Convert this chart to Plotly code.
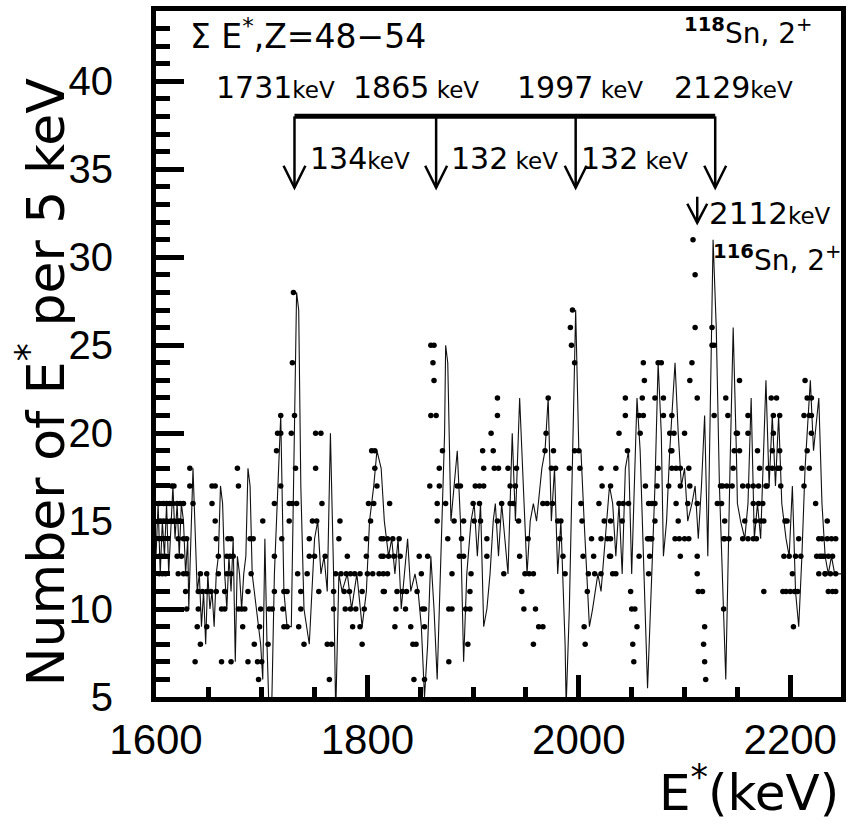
import plotly.graph_objects as go

# ---------------- data ----------------
# smoothed spectrum (thin line): (E* keV, counts per 5 keV)
line_pts = [
    (1600,13),(1602,16),(1604,12),(1606,15),(1608,13),(1610,16),(1612,12),(1614,15),(1616,17),(1618,14),
    (1620,16),(1622,13),(1624,16),(1626,15),(1628,12),(1630,14),(1631,10),(1635,18),(1637,15),(1639,11),
    (1641,12),(1643,9),(1645,11),(1647,8),(1649,12),(1651,10),(1653,11),(1655,9),(1657,12),(1659,13),
    (1661,17),(1663,16),(1665,12),(1667,10),(1669,13),(1671,11),(1673,14),(1675,7),(1677,13),(1679,12),
    (1681,10),(1683,12),(1685,13),(1687,18),(1689,17),(1691,12),(1693,11),(1695,10),(1697,9),(1699,8),
    (1701,6),(1703,14),(1705,8),(1707,4),(1709,3),(1712,12),(1714,15),(1717,20),(1718,21),(1721,11),
    (1724,9),(1728,9),(1731,20),(1733,28),(1735,27),(1737,17),(1740,10),(1745,8),(1750,14),(1753,15),
    (1756,12),(1759,13),(1762,11),(1765,20),(1768,12),(1770,4),(1773,12),(1776,11),(1781,12),(1785,10),
    (1790,12),(1795,9),(1799,11),(1802,15),(1806,17),(1809,19),(1813,18),(1816,15),(1820,13),(1823,14),
    (1826,12),(1829,14),(1832,10),(1835,12),(1838,14),(1841,11),(1845,12),(1848,11),(1851,9),(1854,5),
    (1857,8),(1860,13),(1863,10),(1866,6),(1870,14),(1873,20),(1874,25),(1876,24),(1879,15),(1882,17),
    (1885,19),(1888,15),(1891,7),(1894,12),(1898,15),(1901,16),(1904,13),(1907,16),(1910,9),(1913,10),
    (1916,12),(1919,15),(1921,16),(1924,13),(1927,16),(1930,14),(1933,12),(1937,20),(1940,15),(1944,22),
    (1948,16),(1951,12),(1954,15),(1957,16),(1960,15),(1965,18),(1968,19),(1971,22),(1974,15),(1977,18),
    (1980,12),(1983,15),(1987,8),(1988,4.5),(1991,10),(1994,18),(1997,27),(2000,19),(2002,19),(2005,15),
    (2010,9),(2013,10),(2018,12),(2021,11),(2025,14),(2029,17),(2032,16),(2035,13),(2038,16),(2041,12),
    (2044,18),(2047,19),(2050,12),(2055,22),(2058,19),(2061,13),(2065,5.5),(2069,12),(2072,17),(2075,24),
    (2078,20),(2080,13),(2083,15),(2086,19),(2091,24),(2094,20),(2097,17),(2100,18),(2103,15),(2107,16),
    (2110,17),(2113,14),(2116,17),(2119,21),(2122,13),(2127,31),(2130,26),(2133,17),(2136,12),(2139,6),
    (2143,18),(2146,26),(2149,19),(2150,16),(2153,15),(2157,14),(2160,16),(2163,22),(2166,14),(2169,16),
    (2172,14),(2175,19),(2177,23),(2180,17),(2183,21),(2186,17),(2189,21),(2192,16),(2196,14),(2199,13),
    (2202,17),(2205,11),(2208,9),(2211,13),(2214,18),(2219,23),(2222,19),(2227,22),(2230,16),(2233,13),
    (2236,12),(2239,13),(2242,12),(2245,12),(2248,12),
]
line_e = [p[0] for p in line_pts]
line_n = [p[1] for p in line_pts]

# individual entries (dots): (E* keV, counts)
dot_pts = [
    (1603,16),(1607,16),(1610,16),(1613,16),(1616,16),(1620,16),(1623,16),(1626,16),
    (1604,15),(1607,15),(1610,15),(1614,15),(1617,15),(1621,15),(1623,15),(1615,17),(1617,17),
    (1603,14),(1606,14),(1621,14),(1626,14),(1603,13),(1606,13),(1609,13),(1620,13),(1624,13),
    (1603,12),(1606,12),(1609,12),(1621,12),(1626,12),
    (1632,18),(1632,17),(1635,16),(1629,14),(1628,11),(1629,10),(1629,12),
    (1642,12),(1648,12),(1640,11),(1644,11),(1648,11),(1652,11),(1640,10),(1639,9),(1648,9),(1642,8),(1637,7),
    (1653,17),(1656,17),(1653,16),(1656,15),(1657,14),(1659,13),(1659,12),(1657,11),(1662,10),(1665,10),(1662,7),
    (1668,14),(1671,14),(1667,13),(1670,13),(1673,13),(1667,12),(1671,12),(1665,11),(1678,10),(1681,10),
    (1684,10),(1682,9),(1671,7),(1677,18),(1678,17),
    (1689,14),(1692,14),(1690,12),(1687,11),(1687,7),(1696,7),(1701,15),(1699,10),(1698,9),(1693,8),(1697,6),(1700,7),
    (1712,13),(1712,11),(1707,10),(1710,10),(1706,8),
    (1718,21),(1715,20),(1718,20),(1714,19),(1718,17),(1712,16),(1719,14),(1721,11),(1724,11),(1720,10),(1721,9),(1724,9),
    (1730,28),(1729,24),(1731,21),(1728,20),(1732,18),(1726,16),(1729,16),(1733,16),(1726,15),(1734,12),
    (1737,11),(1737,10),(1735,9),(1740,8),
    (1751,20),(1756,20),(1751,18),(1757,16),(1748,15),(1752,15),(1745,14),(1745,13),(1750,13),(1760,13),
    (1743,12),(1754,11),(1768,11),(1768,10),(1762,8),(1766,8),(1764,6),
    (1774,15),(1773,14),(1781,13),(1770,12),(1775,12),(1780,12),(1784,12),(1788,12),(1793,12),(1778,11),
    (1783,11),(1795,11),(1779,10),(1784,10),(1789,10),(1797,10),(1786,9),(1793,9),(1795,8),
    (1804,19),(1807,19),(1807,18),(1809,17),(1801,16),(1806,16),(1803,15),(1799,14),(1813,14),(1799,13),
    (1813,13),(1800,12),(1805,12),(1811,12),(1815,11),
    (1815,14),(1819,14),(1824,14),(1830,14),(1815,13),(1820,13),(1825,13),(1831,13),(1815,12),(1819,12),
    (1816,11),(1828,11),(1833,11),(1837,11),(1827,10),(1836,10),(1826,9),(1821,16),
    (1849,13),(1857,13),(1851,12),(1847,11),(1852,10),(1854,10),(1841,9),(1854,9),(1843,8),(1846,8),(1844,6),(1854,6),
    (1860,25),(1863,25),(1862,24),(1863,23),(1860,21),(1865,21),(1871,19),(1868,18),(1859,17),(1868,17),(1866,16),(1866,15),
    (1874,16),(1882,15),(1876,14),(1880,12),(1877,10),(1880,10),(1877,7),(1885,17),(1888,17),(1891,15),(1889,14),(1887,13),(1891,13),
    (1902,17),(1906,17),(1910,17),(1900,16),(1906,16),(1901,15),(1907,15),(1913,14),(1913,13),(1898,12),
    (1897,11),(1893,10),(1897,10),(1895,8),(1909,19),(1919,19),(1910,18),(1920,18),(1917,20),(1923,21),(1923,22),
    (1924,18),(1933,18),(1941,18),(1935,17),(1940,17),(1927,16),(1935,16),(1938,16),(1923,15),(1943,15),
    (1952,14),(1944,13),(1929,12),
    (1949,12),(1953,12),(1957,12),(1946,11),(1948,10),(1959,10),(1962,9),(1966,9),(1957,8),
    (1971,22),(1969,20),(1968,19),(1976,19),(1974,18),(1978,18),(1966,16),(1970,16),(1975,16),(1980,15),(1983,15),(1982,14),
    (1994,27),(1992,26),(1993,25),(1996,24),(1996,19),(2000,19),(1991,18),(2001,18),(1985,13),(1987,12),
    (2021,18),(2022,17),(2002,16),(2019,16),(2003,15),(2024,15),(2012,14),(2021,14),(2027,14),(2004,13),
    (2014,13),(2029,13),(2009,12),(2015,12),(2021,12),(2008,11),(2005,9),(2006,8),
    (2035,18),(2030,17),(2038,16),(2042,16),(2047,16),(2030,15),(2041,15),(2030,14),(2030,13),(2032,12),
    (2035,12),(2038,20),(2046,19),(2044,21),(2044,22),
    (2060,22),(2057,21),(2061,21),(2058,20),(2062,23),(2061,24),(2066,16),(2063,17),(2066,14),(2068,14),
    (2057,13),(2067,13),(2066,12),(2049,11),(2050,10),(2053,10),(2055,9),(2051,8),(2052,7),
    (2075,24),(2078,24),(2072,22),(2080,22),(2080,21),(2086,20),(2088,19),(2075,18),(2088,18),(2074,17),
    (2085,17),(2069,16),(2072,16),(2072,15),(2065,14),(2069,14),
    (2088,21),(2090,20),(2100,20),(2087,19),(2092,18),(2096,18),(2104,18),(2096,17),(2105,17),(2092,16),
    (2103,16),(2094,15),(2091,14),(2095,14),(2100,14),(2104,14),(2096,13),(2107,24),(2105,23),(2112,22),(2112,16),
    (2108,31),(2110,29),(2110,26),(2112,13),(2112,12),(2113,11),(2117,11),(2119,9),(2118,8),(2119,7),(2120,6),
    (2126,26),(2126,25),(2128,25),(2128,21),(2134,17),(2135,16),(2131,16),(2137,14),(2137,10),
    (2139,22),(2141,21),(2149,20),(2150,20),(2147,19),(2152,19),(2152,23),(2136,17),(2140,17),(2145,17),
    (2146,18),(2138,15),(2138,14),(2142,14),
    (2160,21),(2160,20),(2169,19),(2171,18),(2155,17),(2160,17),(2165,17),(2170,17),(2177,17),(2165,16),
    (2170,16),(2174,16),(2157,15),(2167,15),(2172,15),(2175,15),(2155,14),(2160,14),(2165,14),(2168,14),(2175,11),
    (2182,22),(2187,22),(2184,21),(2190,21),(2184,20),(2183,19),(2190,19),(2179,18),(2183,18),(2188,18),
    (2190,18),(2178,17),(2191,17),(2195,15),(2197,15),(2194,13),(2199,13),(2205,13),(2210,13),(2202,12),
    (2193,11),(2196,11),(2200,11),(2204,11),(2207,11),(2203,9),(2208,14),
    (2214,23),(2216,22),(2220,22),(2213,21),(2218,21),(2220,21),(2220,20),(2216,19),(2211,18),(2218,18),
    (2213,17),(2224,16),(2227,14),(2230,14),(2225,13),(2228,13),(2230,13),(2227,12),(2233,12),(2235,15),
    (2235,14),(2239,14),(2243,14),(2232,13),(2236,13),(2240,13),(2233,12),(2238,12),(2243,12),(2236,11),
    (2240,11),(2243,11),
]
dot_e = [p[0] for p in dot_pts]
dot_n = [p[1] for p in dot_pts]

level_e = [1731, 1865, 1997, 2129]          # 118Sn levels (keV)
level_txt = ["1731", "1865", "1997", "2129"]
level_gap = ["", " ", " ", ""]
gamma_txt = ["134", "132", "132"]          # transitions (keV)
gamma_gap = ["", " ", " "]
sn116_e = 2112                              # 116Sn 2+ (keV)

# ---------------- geometry ----------------
W, H = 852, 825
L, R, T, B = 156, 6, 10, 128
PW, PH = W - L - R, H - T - B
X0, X1 = 1600, 2248
Y0, Y1 = 5, 44


def xp(px):
    return (px - L) / PW


def yp(py):
    return (H - B - py) / PH


def vy(py):
    return Y0 + (H - B - py) / PH * (Y1 - Y0)


def dxk(plen):
    return plen * (X1 - X0) / PW


TXT = "DejaVu Sans"

fig = go.Figure()
fig.add_trace(go.Scatter(x=line_e, y=line_n, mode="lines",
                         line=dict(color="#111111", width=1.1),
                         hoverinfo="skip", showlegend=False))
fig.add_trace(go.Scatter(x=dot_e, y=dot_n, mode="markers",
                         marker=dict(color="black", size=5.5, line=dict(width=0)),
                         showlegend=False))

shapes = []
bar_y = vy(115.5)
tip_y = vy(187)
head_y = vy(165)
shapes.append(dict(type="line", xref="x", yref="y", x0=level_e[0], x1=level_e[-1],
                   y0=bar_y, y1=bar_y, line=dict(color="black", width=5)))
for e in level_e:
    shapes.append(dict(type="line", xref="x", yref="y", x0=e, x1=e, y0=bar_y, y1=tip_y,
                       line=dict(color="black", width=2.5)))
    shapes.append(dict(type="path", xref="x", yref="y",
                       path=f"M {e - dxk(11)},{head_y} L {e},{tip_y} L {e + dxk(11)},{head_y}",
                       line=dict(color="black", width=2.5)))
t2 = vy(222)
shapes.append(dict(type="line", xref="x", yref="y", x0=sn116_e, x1=sn116_e, y0=vy(196), y1=t2,
                   line=dict(color="black", width=2.5)))
shapes.append(dict(type="path", xref="x", yref="y",
                   path=f"M {sn116_e - dxk(10)},{vy(203)} L {sn116_e},{t2} L {sn116_e + dxk(10)},{vy(203)}",
                   line=dict(color="black", width=2.5)))

ann = []


def text(s, px, py, size, xanchor="left", angle=0, family=TXT, yanchor="middle"):
    ann.append(dict(text=s, x=xp(px), y=yp(py), xref="paper", yref="paper",
                    xanchor=xanchor, yanchor=yanchor, showarrow=False, textangle=angle,
                    font=dict(family=family, size=size, color="black")))


text("Σ E<sup>*</sup>,Z=48−54", 188, 34, 33)
text("<sup><b>118</b></sup>Sn, 2<sup>+</sup>", 686, 31, 28)
for s, g, px in zip(level_txt, level_gap, [214, 352, 518, 676]):
    text(f"{s}<span style='font-size:23px'>{g}keV</span>", px, 87, 30)
for s, g, px in zip(gamma_txt, gamma_gap, [309, 451, 582]):
    text(f"{s}<span style='font-size:23px'>{g}keV</span>", px, 158, 30)
text("2112<span style='font-size:23px'>keV</span>", 711, 212, 31)
text("<sup><b>116</b></sup>Sn, 2<sup>+</sup>", 715, 258, 28)
text("Number of E<sup>*</sup> per 5 keV", 42, 382, 52, xanchor="center", angle=-90)
text("E<sup>*</sup>(keV)", 846, 824, 50, xanchor="right", yanchor="bottom")

fig.update_layout(
    width=W, height=H,
    margin=dict(l=L, r=R, t=T, b=B, pad=0),
    paper_bgcolor="white", plot_bgcolor="white",
    shapes=shapes, annotations=ann,
    xaxis=dict(range=[X0, X1], showgrid=False, zeroline=False,
               showline=True, mirror=True, linewidth=5, linecolor="black",
               ticks="inside", tickmode="linear", tick0=1600, dtick=200,
               ticklen=22, tickwidth=5, tickcolor="black",
               minor=dict(ticks="inside", tick0=1600, dtick=50, ticklen=10, tickwidth=5,
                          tickcolor="black", showgrid=False),
               tickfont=dict(family="Liberation Sans Narrow, Liberation Sans", size=42, color="black"),
               ticklabelstandoff=2),
    yaxis=dict(range=[Y0, Y1], showgrid=False, zeroline=False,
               showline=True, mirror=True, linewidth=5, linecolor="black",
               ticks="inside", tickmode="linear", tick0=5, dtick=5,
               ticklen=28, tickwidth=5, tickcolor="black",
               minor=dict(ticks="inside", tick0=5, dtick=1, ticklen=14, tickwidth=5,
                          tickcolor="black", showgrid=False),
               tickfont=dict(family="Liberation Sans", size=40, color="black"),
               ticklabelstandoff=30),
)

fig.write_html("out.html")
